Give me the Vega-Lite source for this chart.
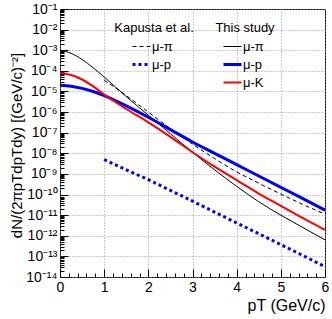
{
  "$schema": "https://vega.github.io/schema/vega-lite/v6.json",
  "width": 265,
  "height": 268,
  "autosize": {"type": "none"},
  "padding": {"left": 60, "top": 9, "right": 7, "bottom": 42},
  "background": "white",
  "config": {
    "font": "Liberation Sans",
    "view": {"stroke": "black", "strokeWidth": 1},
    "axis": {"labelColor": "black", "titleColor": "black", "labelFont": "Liberation Sans", "titleFont": "Liberation Sans", "tickColor": "black"},
    "legend": {"labelColor": "black", "titleColor": "black", "labelFont": "Liberation Sans", "titleFont": "Liberation Sans"}
  },
  "data": {
    "values": [
      {"study": "Kapusta", "series": "μ-π", "x": 1, "y": 3.55e-5},
      {"study": "Kapusta", "series": "μ-π", "x": 1.5, "y": 6.31e-6},
      {"study": "Kapusta", "series": "μ-π", "x": 2, "y": 1.0e-6},
      {"study": "Kapusta", "series": "μ-π", "x": 2.5, "y": 1.58e-7},
      {"study": "Kapusta", "series": "μ-π", "x": 3, "y": 2.82e-8},
      {"study": "Kapusta", "series": "μ-π", "x": 3.5, "y": 5.62e-9},
      {"study": "Kapusta", "series": "μ-π", "x": 4, "y": 1.26e-9},
      {"study": "Kapusta", "series": "μ-π", "x": 4.5, "y": 3.55e-10},
      {"study": "Kapusta", "series": "μ-π", "x": 5, "y": 1.05e-10},
      {"study": "Kapusta", "series": "μ-π", "x": 5.5, "y": 3.31e-11},
      {"study": "Kapusta", "series": "μ-π", "x": 6, "y": 1.12e-11},
      {"study": "Kapusta", "series": "μ-p", "x": 1, "y": 5.01e-9},
      {"study": "Kapusta", "series": "μ-p", "x": 1.5, "y": 1.58e-9},
      {"study": "Kapusta", "series": "μ-p", "x": 2, "y": 5.25e-10},
      {"study": "Kapusta", "series": "μ-p", "x": 2.5, "y": 1.58e-10},
      {"study": "Kapusta", "series": "μ-p", "x": 3, "y": 4.79e-11},
      {"study": "Kapusta", "series": "μ-p", "x": 3.5, "y": 1.41e-11},
      {"study": "Kapusta", "series": "μ-p", "x": 4, "y": 4.17e-12},
      {"study": "Kapusta", "series": "μ-p", "x": 4.5, "y": 1.26e-12},
      {"study": "Kapusta", "series": "μ-p", "x": 5, "y": 3.72e-13},
      {"study": "Kapusta", "series": "μ-p", "x": 5.5, "y": 1.10e-13},
      {"study": "Kapusta", "series": "μ-p", "x": 6, "y": 3.16e-14},
      {"study": "This", "series": "μ-π", "x": 0, "y": 1.0e-3},
      {"study": "This", "series": "μ-π", "x": 0.25, "y": 7.08e-4},
      {"study": "This", "series": "μ-π", "x": 0.5, "y": 3.55e-4},
      {"study": "This", "series": "μ-π", "x": 0.75, "y": 1.41e-4},
      {"study": "This", "series": "μ-π", "x": 1, "y": 5.01e-5},
      {"study": "This", "series": "μ-π", "x": 1.5, "y": 5.62e-6},
      {"study": "This", "series": "μ-π", "x": 2, "y": 7.08e-7},
      {"study": "This", "series": "μ-π", "x": 2.5, "y": 8.91e-8},
      {"study": "This", "series": "μ-π", "x": 3, "y": 1.12e-8},
      {"study": "This", "series": "μ-π", "x": 3.5, "y": 1.58e-9},
      {"study": "This", "series": "μ-π", "x": 4, "y": 2.51e-10},
      {"study": "This", "series": "μ-π", "x": 4.5, "y": 4.47e-11},
      {"study": "This", "series": "μ-π", "x": 5, "y": 1.0e-11},
      {"study": "This", "series": "μ-π", "x": 5.5, "y": 2.51e-12},
      {"study": "This", "series": "μ-π", "x": 6, "y": 6.31e-13},
      {"study": "This", "series": "μ-p", "x": 0, "y": 2.0e-5},
      {"study": "This", "series": "μ-p", "x": 0.25, "y": 1.78e-5},
      {"study": "This", "series": "μ-p", "x": 0.5, "y": 1.41e-5},
      {"study": "This", "series": "μ-p", "x": 0.75, "y": 1.0e-5},
      {"study": "This", "series": "μ-p", "x": 1, "y": 6.31e-6},
      {"study": "This", "series": "μ-p", "x": 1.5, "y": 2.0e-6},
      {"study": "This", "series": "μ-p", "x": 2, "y": 5.62e-7},
      {"study": "This", "series": "μ-p", "x": 2.5, "y": 1.41e-7},
      {"study": "This", "series": "μ-p", "x": 3, "y": 3.55e-8},
      {"study": "This", "series": "μ-p", "x": 3.5, "y": 1.0e-8},
      {"study": "This", "series": "μ-p", "x": 4, "y": 2.82e-9},
      {"study": "This", "series": "μ-p", "x": 4.5, "y": 7.94e-10},
      {"study": "This", "series": "μ-p", "x": 5, "y": 2.24e-10},
      {"study": "This", "series": "μ-p", "x": 5.5, "y": 6.31e-11},
      {"study": "This", "series": "μ-p", "x": 6, "y": 1.74e-11},
      {"study": "This", "series": "μ-K", "x": 0, "y": 7.59e-5},
      {"study": "This", "series": "μ-K", "x": 0.25, "y": 6.31e-5},
      {"study": "This", "series": "μ-K", "x": 0.5, "y": 3.8e-5},
      {"study": "This", "series": "μ-K", "x": 0.75, "y": 1.78e-5},
      {"study": "This", "series": "μ-K", "x": 1, "y": 7.08e-6},
      {"study": "This", "series": "μ-K", "x": 1.5, "y": 1.41e-6},
      {"study": "This", "series": "μ-K", "x": 2, "y": 3.16e-7},
      {"study": "This", "series": "μ-K", "x": 2.5, "y": 6.31e-8},
      {"study": "This", "series": "μ-K", "x": 3, "y": 1.12e-8},
      {"study": "This", "series": "μ-K", "x": 3.5, "y": 2.24e-9},
      {"study": "This", "series": "μ-K", "x": 4, "y": 5.01e-10},
      {"study": "This", "series": "μ-K", "x": 4.5, "y": 1.12e-10},
      {"study": "This", "series": "μ-K", "x": 5, "y": 2.82e-11},
      {"study": "This", "series": "μ-K", "x": 5.5, "y": 7.08e-12},
      {"study": "This", "series": "μ-K", "x": 6, "y": 1.91e-12}
    ]
  },
  "layer": [
    {
      "mark": {"type": "point", "opacity": 0},
      "encoding": {
        "x": {"field": "x", "type": "quantitative", "scale": {"domain": [0, 6], "nice": false, "zero": false},
          "axis": {"orient": "bottom", "values": [0, 1, 2, 3, 4, 5, 6], "format": "d", "ticks": false, "domain": false, "grid": true, "gridColor": "#999999", "gridDash": [1, 2], "gridWidth": 1, "labelFontSize": 14, "labelPadding": 3, "labelFlush": false, "labelOverlap": false, "labelBound": false, "title": "pT (GeV/c)", "titleFontSize": 16, "titleFontWeight": "normal", "titleAlign": "right", "titleAnchor": "end", "titleX": 265, "titleY": 33, "titleBaseline": "alphabetic"}},
        "y": {"field": "y", "type": "quantitative", "scale": {"type": "log", "domain": [1e-14, 0.1], "nice": false},
          "axis": {"orient": "left", "values": [1e-14, 1e-13, 1e-12, 1e-11, 1e-10, 1e-9, 1e-8, 1e-7, 1e-6, 1e-5, 1e-4, 1e-3, 1e-2, 1e-1], "ticks": false, "domain": false, "grid": true, "gridColor": "#999999", "gridDash": [1, 2], "gridWidth": 1, "labelFontSize": 14, "labelPadding": 3, "labelFlush": false, "labelOverlap": false, "labelBound": false,
            "labelExpr": "'10⁻' + (round(-log(datum.value)/LN10) >= 10 ? '¹' : '') + ['⁰','¹','²','³','⁴','⁵','⁶','⁷','⁸','⁹'][round(-log(datum.value)/LN10) % 10]",
            "title": "dN/(2πpTdpTdy) [(GeV/c)⁻²]", "titleFontSize": 15, "titleFontWeight": "normal", "titleAngle": 270, "titleAlign": "center", "titleBaseline": "alphabetic", "titleX": -39, "titleY": 136}}
      }
    },
    {
      "mark": {"type": "point", "opacity": 0},
      "encoding": {
        "x": {"field": "x", "type": "quantitative", "scale": {"domain": [0, 6], "nice": false, "zero": false},
          "axis": {"orient": "bottom", "values": [0, 1, 2, 3, 4, 5, 6], "offset": -8, "tickSize": 8, "ticks": true, "tickWidth": 1, "labels": false, "domain": false, "grid": false, "title": null}},
        "y": {"field": "y", "type": "quantitative", "scale": {"type": "log", "domain": [1e-14, 0.1], "nice": false},
          "axis": {"orient": "left", "values": [1e-14, 1e-13, 1e-12, 1e-11, 1e-10, 1e-9, 1e-8, 1e-7, 1e-6, 1e-5, 1e-4, 1e-3, 1e-2, 1e-1], "offset": -8, "tickSize": 8, "ticks": true, "tickWidth": 1, "labels": false, "domain": false, "grid": false, "title": null}}
      }
    },
    {
      "mark": {"type": "point", "opacity": 0},
      "encoding": {
        "x": {"field": "x", "type": "quantitative", "scale": {"domain": [0, 6], "nice": false, "zero": false},
          "axis": {"orient": "bottom", "values": [0.2, 0.4, 0.6, 0.8, 1.2, 1.4, 1.6, 1.8, 2.2, 2.4, 2.6, 2.8, 3.2, 3.4, 3.6, 3.8, 4.2, 4.4, 4.6, 4.8, 5.2, 5.4, 5.6, 5.8], "offset": -4, "tickSize": 4, "ticks": true, "tickWidth": 1, "labels": false, "domain": false, "grid": false, "title": null}},
        "y": {"field": "y", "type": "quantitative", "scale": {"type": "log", "domain": [1e-14, 0.1], "nice": false},
          "axis": {"orient": "left", "values": [2e-14, 3e-14, 4e-14, 5e-14, 6e-14, 7e-14, 8e-14, 9e-14, 2e-13, 3e-13, 4e-13, 5e-13, 6e-13, 7e-13, 8e-13, 9e-13, 2e-12, 3e-12, 4e-12, 5e-12, 6e-12, 7e-12, 8e-12, 9e-12, 2e-11, 3e-11, 4e-11, 5e-11, 6e-11, 7e-11, 8e-11, 9e-11, 2e-10, 3e-10, 4e-10, 5e-10, 6e-10, 7e-10, 8e-10, 9e-10, 2e-9, 3e-9, 4e-9, 5e-9, 6e-9, 7e-9, 8e-9, 9e-9, 2e-8, 3e-8, 4e-8, 5e-8, 6e-8, 7e-8, 8e-8, 9e-8, 2e-7, 3e-7, 4e-7, 5e-7, 6e-7, 7e-7, 8e-7, 9e-7, 2e-6, 3e-6, 4e-6, 5e-6, 6e-6, 7e-6, 8e-6, 9e-6, 2e-5, 3e-5, 4e-5, 5e-5, 6e-5, 7e-5, 8e-5, 9e-5, 2e-4, 3e-4, 4e-4, 5e-4, 6e-4, 7e-4, 8e-4, 9e-4, 2e-3, 3e-3, 4e-3, 5e-3, 6e-3, 7e-3, 8e-3, 9e-3, 2e-2, 3e-2, 4e-2, 5e-2, 6e-2, 7e-2, 8e-2, 9e-2], "offset": -4, "tickSize": 4, "ticks": true, "tickWidth": 1, "labels": false, "domain": false, "grid": false, "title": null}}
      }
    },
    {
      "transform": [{"filter": "datum.study === 'Kapusta'"}],
      "mark": {"type": "line", "interpolate": "monotone"},
      "encoding": {
        "x": {"field": "x", "type": "quantitative", "scale": {"domain": [0, 6], "nice": false, "zero": false}, "axis": null},
        "y": {"field": "y", "type": "quantitative", "scale": {"type": "log", "domain": [1e-14, 0.1], "nice": false}, "axis": null},
        "color": {"field": "series", "type": "nominal", "scale": {"domain": ["μ-π", "μ-p"], "range": ["#000000", "#0000ff"]},
          "legend": {"title": "Kapusta et al.", "orient": "none", "legendX": 54, "legendY": 13, "symbolType": "stroke", "symbolSize": 324, "labelFontSize": 13, "titleFontSize": 13, "titleFontWeight": "normal", "titleAnchor": "middle", "titlePadding": 5, "rowPadding": 4, "labelOffset": 4, "padding": 0,
            "encode": {"symbols": {"update": {"strokeWidth": {"signal": "datum.value === 'μ-p' ? 3 : 1"}}}}}},
        "strokeDash": {"field": "series", "type": "nominal", "scale": {"domain": ["μ-π", "μ-p"], "range": [[4, 3], [3, 3]]},
          "legend": {"title": "Kapusta et al.", "orient": "none", "legendX": 54, "legendY": 13, "symbolType": "stroke", "symbolSize": 324, "labelFontSize": 13, "titleFontSize": 13, "titleFontWeight": "normal", "titleAnchor": "middle", "titlePadding": 5, "rowPadding": 4, "labelOffset": 4, "padding": 0,
            "encode": {"symbols": {"update": {"strokeWidth": {"signal": "datum.value === 'μ-p' ? 3 : 1"}}}}}},
        "strokeWidth": {"condition": {"test": "datum.series === 'μ-p'", "value": 3}, "value": 1}
      }
    },
    {
      "transform": [{"filter": "datum.study === 'This'"}],
      "mark": {"type": "line", "interpolate": "monotone"},
      "encoding": {
        "x": {"field": "x", "type": "quantitative", "scale": {"domain": [0, 6], "nice": false, "zero": false}, "axis": null},
        "y": {"field": "y", "type": "quantitative", "scale": {"type": "log", "domain": [1e-14, 0.1], "nice": false}, "axis": null},
        "color": {"field": "series", "type": "nominal", "scale": {"domain": ["μ-π", "μ-p", "μ-K"], "range": ["#000000", "#0000ff", "#ff0000"]},
          "legend": {"title": "This study", "orient": "none", "legendX": 155, "legendY": 13, "symbolType": "stroke", "symbolSize": 324, "labelFontSize": 13, "titleFontSize": 13, "titleFontWeight": "normal", "titleAnchor": "middle", "titlePadding": 5, "rowPadding": 4, "labelOffset": 4, "padding": 0,
            "encode": {"symbols": {"update": {"strokeWidth": {"signal": "datum.value === 'μ-p' ? 3 : datum.value === 'μ-K' ? 2 : 1"}}}}}},
        "strokeWidth": {"condition": [{"test": "datum.series === 'μ-p'", "value": 3}, {"test": "datum.series === 'μ-K'", "value": 2}], "value": 1}
      }
    }
  ],
  "resolve": {
    "scale": {"color": "independent", "strokeDash": "independent"},
    "legend": {"color": "independent", "strokeDash": "independent"},
    "axis": {"x": "independent", "y": "independent"}
  }
}
